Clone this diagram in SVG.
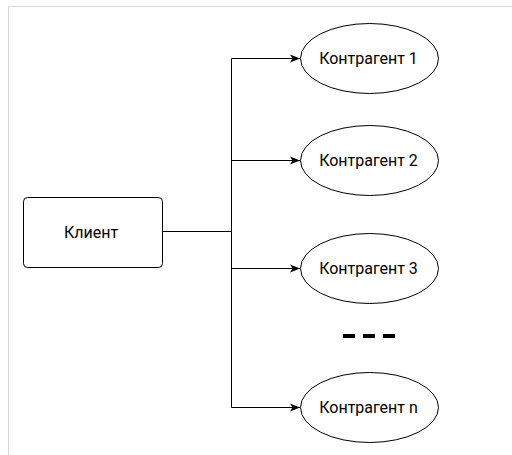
<svg xmlns="http://www.w3.org/2000/svg" width="512" height="455" viewBox="0 0 512 455">
<style>
.node{fill:#fff;stroke:#000;stroke-width:1}
.lbl{font-family:Roboto,"Liberation Sans",sans-serif;font-size:16px;fill:#000;text-anchor:middle;dominant-baseline:central}
.edge{fill:none;stroke:#000;stroke-width:1}
</style>
<defs>
<marker id="arr" viewBox="0 0 10 10" refX="10" refY="5" markerWidth="10" markerHeight="10" markerUnits="userSpaceOnUse" orient="auto">
<path d="M0,1 L10,5 L0,9 L2.5,5 Z" fill="#000"/>
</marker>
</defs>
<rect x="0" y="0" width="512" height="455" fill="#fff"/>
<path d="M8.5,455 V6.5 H512" fill="none" stroke="#d9d9d9" stroke-width="1"/>
<g id="edges">
<path class="edge" d="M162,231.5 H231.5"/>
<path class="edge" d="M231.5,58.5 V407.5"/>
<path class="edge" d="M231.5,58.5 H300" marker-end="url(#arr)"/>
<path class="edge" d="M231.5,160.5 H300" marker-end="url(#arr)"/>
<path class="edge" d="M231.5,268.5 H300" marker-end="url(#arr)"/>
<path class="edge" d="M231.5,407.5 H300" marker-end="url(#arr)"/>
</g>
<g id="client">
<rect class="node" x="23.5" y="197.5" width="139" height="70" rx="4"/>
<text class="lbl" x="91" y="232.5">Клиент</text>
</g>
<g id="k1">
<ellipse class="node" cx="369.5" cy="58.5" rx="69" ry="35"/>
<text class="lbl" x="368.5" y="58.5">Контрагент 1</text>
</g>
<g id="k2">
<ellipse class="node" cx="369.5" cy="160.5" rx="69" ry="35"/>
<text class="lbl" x="368.5" y="160.5">Контрагент 2</text>
</g>
<g id="k3">
<ellipse class="node" cx="369.5" cy="268.5" rx="69" ry="35"/>
<text class="lbl" x="368.5" y="268.5">Контрагент 3</text>
</g>
<g id="kn">
<ellipse class="node" cx="369.5" cy="407.5" rx="69" ry="35"/>
<text class="lbl" x="368.5" y="407.5">Контрагент n</text>
</g>
<g id="dots">
<line x1="343" y1="336" x2="396" y2="336" stroke="#000" stroke-width="4" stroke-dasharray="12,8"/>
</g>
</svg>
